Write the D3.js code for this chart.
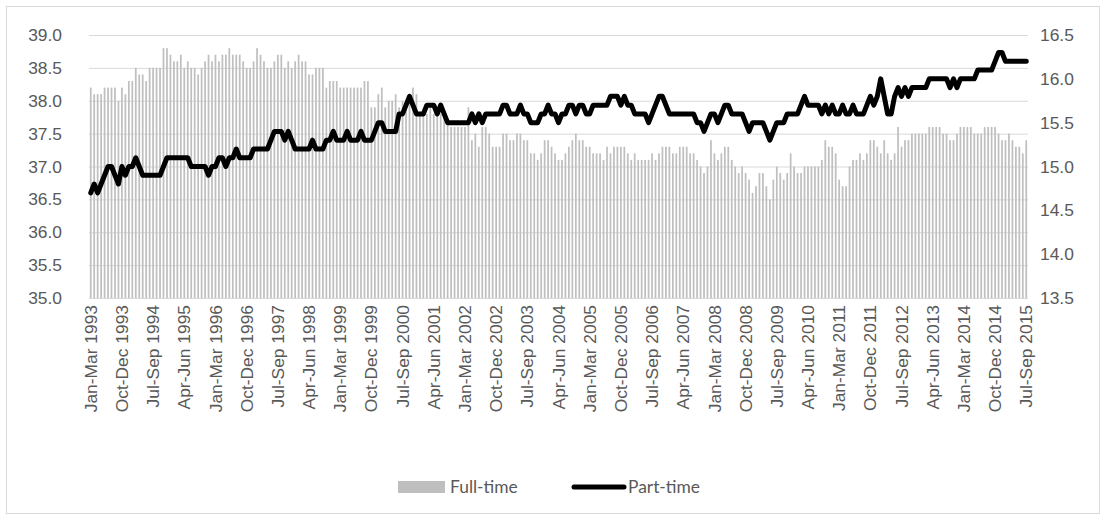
<!DOCTYPE html>
<html>
<head>
<meta charset="utf-8">
<script src="https://cdn.jsdelivr.net/npm/d3@7"></script>
<style>
  body { margin: 0; background: #fff; }
  svg { display: block; font-family: Lato, "Open Sans", sans-serif; }
  .axis text { fill: #595959; font-size: 17.4px; }
  .axis path { display: none; }
  .grid line { stroke: #d9d9d9; stroke-width: 1; }
  .grid path { display: none; }
  .legend text { fill: #595959; font-size: 17.4px; }
</style>
</head>
<body>
<div class="chart"></div>
<script>
// rolling 3-month periods, Jan-Mar 1993 .. Jul-Sep 2015
const months = ["Jan","Feb","Mar","Apr","May","Jun","Jul","Aug","Sep","Oct","Nov","Dec"];
const periods = d3.range(271).map(i => {
    const s = i % 12, e = (i + 2) % 12;
    return months[s] + "-" + months[e] + " " + (1993 + Math.floor((i + 2) / 12));
});

const tickLabels = ["Jan-Mar 1993","Oct-Dec 1993","Jul-Sep 1994","Apr-Jun 1995","Jan-Mar 1996",
    "Oct-Dec 1996","Jul-Sep 1997","Apr-Jun 1998","Jan-Mar 1999","Oct-Dec 1999","Jul-Sep 2000",
    "Apr-Jun 2001","Jan-Mar 2002","Oct-Dec 2002","Jul-Sep 2003","Apr-Jun 2004","Jan-Mar 2005",
    "Oct-Dec 2005","Jul-Sep 2006","Apr-Jun 2007","Jan-Mar 2008","Oct-Dec 2008","Jul-Sep 2009",
    "Apr-Jun 2010","Jan-Mar 2011","Oct-Dec 2011","Jul-Sep 2012","Apr-Jun 2013","Jan-Mar 2014",
    "Oct-Dec 2014","Jul-Sep 2015"];

// full-time hours (left axis)
const fullTime = [
 38.2,38.1,38.1,38.1,38.2,38.2,38.2,38.2,38.0,38.2, 38.1,38.3,38.3,38.5,38.4,38.4,38.3,38.5,38.5,38.5,
 38.5,38.8,38.8,38.7,38.6,38.6,38.7,38.5,38.6,38.5, 38.5,38.4,38.5,38.6,38.7,38.6,38.7,38.6,38.7,38.7,
 38.8,38.7,38.7,38.7,38.6,38.5,38.5,38.6,38.8,38.7, 38.6,38.5,38.5,38.6,38.7,38.7,38.5,38.6,38.5,38.6,
 38.7,38.6,38.6,38.4,38.4,38.5,38.5,38.5,38.2,38.3, 38.3,38.3,38.2,38.2,38.2,38.2,38.2,38.2,38.2,38.3,
 38.3,37.9,37.9,38.1,38.2,37.9,38.0,38.0,38.1,37.9, 38.0,38.0,38.0,38.2,38.1,37.8,37.8,37.8,37.9,37.8,
 37.9,37.8,37.8,37.7,37.6,37.6,37.6,37.6,37.6,37.9, 37.4,37.5,37.3,37.6,37.6,37.5,37.3,37.3,37.3,37.5,
 37.5,37.4,37.4,37.5,37.5,37.4,37.4,37.2,37.2,37.1, 37.2,37.4,37.4,37.3,37.2,37.1,37.1,37.2,37.3,37.4,
 37.5,37.4,37.4,37.3,37.3,37.2,37.2,37.2,37.1,37.3, 37.2,37.3,37.3,37.3,37.3,37.2,37.1,37.2,37.1,37.1,
 37.1,37.1,37.2,37.1,37.2,37.3,37.3,37.3,37.2,37.2, 37.3,37.3,37.3,37.2,37.2,37.1,37.0,36.9,37.0,37.4,
 37.2,37.1,37.2,37.3,37.3,37.1,37.0,36.9,37.0,36.9, 36.8,36.6,36.7,36.9,36.9,36.7,36.5,36.8,37.0,36.9,
 36.8,36.9,37.2,37.0,36.9,36.9,37.0,37.0,37.0,37.0, 37.0,37.1,37.4,37.3,37.3,37.2,36.8,36.7,36.7,37.0,
 37.1,37.1,37.2,37.1,37.2,37.4,37.4,37.3,37.2,37.4, 37.2,37.1,37.2,37.6,37.3,37.4,37.4,37.5,37.5,37.5,
 37.5,37.5,37.6,37.6,37.6,37.6,37.5,37.5,37.4,37.4, 37.5,37.6,37.6,37.6,37.6,37.5,37.5,37.5,37.6,37.6,
 37.6,37.6,37.5,37.4,37.4,37.5,37.4,37.3,37.3,37.2, 37.4
];

// part-time hours (right axis)
const partTime = [
 14.7,14.8,14.7,14.8,14.9,15.0,15.0,14.9,14.8,15.0, 14.9,15.0,15.0,15.1,15.0,14.9,14.9,14.9,14.9,14.9,
 14.9,15.0,15.1,15.1,15.1,15.1,15.1,15.1,15.1,15.0, 15.0,15.0,15.0,15.0,14.9,15.0,15.0,15.1,15.1,15.0,
 15.1,15.1,15.2,15.1,15.1,15.1,15.1,15.2,15.2,15.2, 15.2,15.2,15.3,15.4,15.4,15.4,15.3,15.4,15.3,15.2,
 15.2,15.2,15.2,15.2,15.3,15.2,15.2,15.2,15.3,15.3, 15.4,15.3,15.3,15.3,15.4,15.3,15.3,15.3,15.4,15.3,
 15.3,15.3,15.4,15.5,15.5,15.4,15.4,15.4,15.4,15.6, 15.6,15.7,15.8,15.7,15.6,15.6,15.6,15.7,15.7,15.7,
 15.6,15.7,15.6,15.5,15.5,15.5,15.5,15.5,15.5,15.5, 15.6,15.5,15.6,15.5,15.6,15.6,15.6,15.6,15.6,15.7,
 15.7,15.6,15.6,15.6,15.7,15.6,15.6,15.5,15.5,15.5, 15.6,15.6,15.7,15.6,15.6,15.5,15.6,15.6,15.7,15.7,
 15.6,15.7,15.7,15.6,15.6,15.7,15.7,15.7,15.7,15.7, 15.8,15.8,15.8,15.7,15.8,15.7,15.7,15.6,15.6,15.6,
 15.6,15.5,15.6,15.7,15.8,15.8,15.7,15.6,15.6,15.6, 15.6,15.6,15.6,15.6,15.6,15.5,15.5,15.4,15.5,15.6,
 15.6,15.5,15.6,15.7,15.7,15.6,15.6,15.6,15.6,15.5, 15.4,15.5,15.5,15.5,15.5,15.4,15.3,15.4,15.5,15.5,
 15.5,15.6,15.6,15.6,15.6,15.7,15.8,15.7,15.7,15.7, 15.7,15.6,15.7,15.6,15.7,15.6,15.6,15.7,15.6,15.6,
 15.7,15.6,15.6,15.6,15.7,15.8,15.7,15.8,16.0,15.8, 15.6,15.6,15.8,15.9,15.8,15.9,15.8,15.9,15.9,15.9,
 15.9,15.9,16.0,16.0,16.0,16.0,16.0,16.0,15.9,16.0, 15.9,16.0,16.0,16.0,16.0,16.0,16.1,16.1,16.1,16.1,
 16.1,16.2,16.3,16.3,16.2,16.2,16.2,16.2,16.2,16.2, 16.2
];

const leftTicks = [35.0,35.5,36.0,36.5,37.0,37.5,38.0,38.5,39.0];
const rightTicks = [13.5,14.0,14.5,15.0,15.5,16.0,16.5];

const data = periods.map((p, i) => ({period: p, ft: fullTime[i], pt: partTime[i]}));

const width = 1106, height = 520;
const plot = {left: 89, right: 1028, top: 35, bottom: 298};

const svg = d3.select(".chart").append("svg")
    .attr("width", width).attr("height", height);

// outer chart border
svg.append("rect")
    .attr("x", 6.5).attr("y", 6.5)
    .attr("width", width - 13).attr("height", height - 13)
    .attr("fill", "none").attr("stroke", "#d9d9d9");

const x = d3.scaleBand().domain(periods)
    .range([plot.left, plot.right]).paddingInner(0.5).paddingOuter(0.25);
const yL = d3.scaleLinear().domain([35, 39]).range([plot.bottom, plot.top]);
const yR = d3.scaleLinear().domain([13.5, 16.5]).range([plot.bottom, plot.top]);

// gridlines
svg.append("g").attr("class", "grid")
    .attr("transform", `translate(${plot.left},0)`)
    .call(d3.axisLeft(yL).tickValues(leftTicks).tickSize(-(plot.right - plot.left)).tickFormat(""));

// bars
svg.append("g").selectAll("rect").data(data).join("rect")
    .attr("x", d => x(d.period))
    .attr("y", d => yL(d.ft))
    .attr("width", x.bandwidth())
    .attr("height", d => yL(35) - yL(d.ft))
    .attr("fill", "#bfbfbf");

// line
const line = d3.line()
    .x(d => x(d.period) + x.bandwidth() / 2)
    .y(d => yR(d.pt));
svg.append("path").datum(data)
    .attr("d", line)
    .attr("fill", "none").attr("stroke", "#000")
    .attr("stroke-width", 5)
    .attr("stroke-linejoin", "round").attr("stroke-linecap", "round");

// axes
svg.append("g").attr("class", "axis")
    .attr("transform", `translate(${plot.left - 27},0)`)
    .call(d3.axisLeft(yL).tickValues(leftTicks).tickFormat(d3.format(".1f")).tickSize(0).tickPadding(0));

svg.append("g").attr("class", "axis")
    .attr("transform", `translate(${plot.right + 12},0)`)
    .call(d3.axisRight(yR).tickValues(rightTicks).tickFormat(d3.format(".1f")).tickSize(0).tickPadding(0));

const xAxis = svg.append("g").attr("class", "axis")
    .attr("transform", `translate(0,${plot.bottom + 7})`)
    .call(d3.axisBottom(x).tickValues(tickLabels).tickSize(0).tickPadding(0));
xAxis.selectAll("text")
    .attr("transform", "rotate(-90)")
    .attr("text-anchor", "end")
    .attr("x", 0).attr("y", 0).attr("dy", "0.35em");

// legend
const legend = svg.append("g").attr("class", "legend");
legend.append("rect").attr("x", 398).attr("y", 481).attr("width", 47).attr("height", 12).attr("fill", "#bfbfbf");
legend.append("text").attr("x", 450).attr("y", 493).text("Full-time");
legend.append("line").attr("x1", 574).attr("x2", 624).attr("y1", 487).attr("y2", 487)
    .attr("stroke", "#000").attr("stroke-width", 5).attr("stroke-linecap", "round");
legend.append("text").attr("x", 628).attr("y", 493).text("Part-time");
</script>
</body>
</html>
